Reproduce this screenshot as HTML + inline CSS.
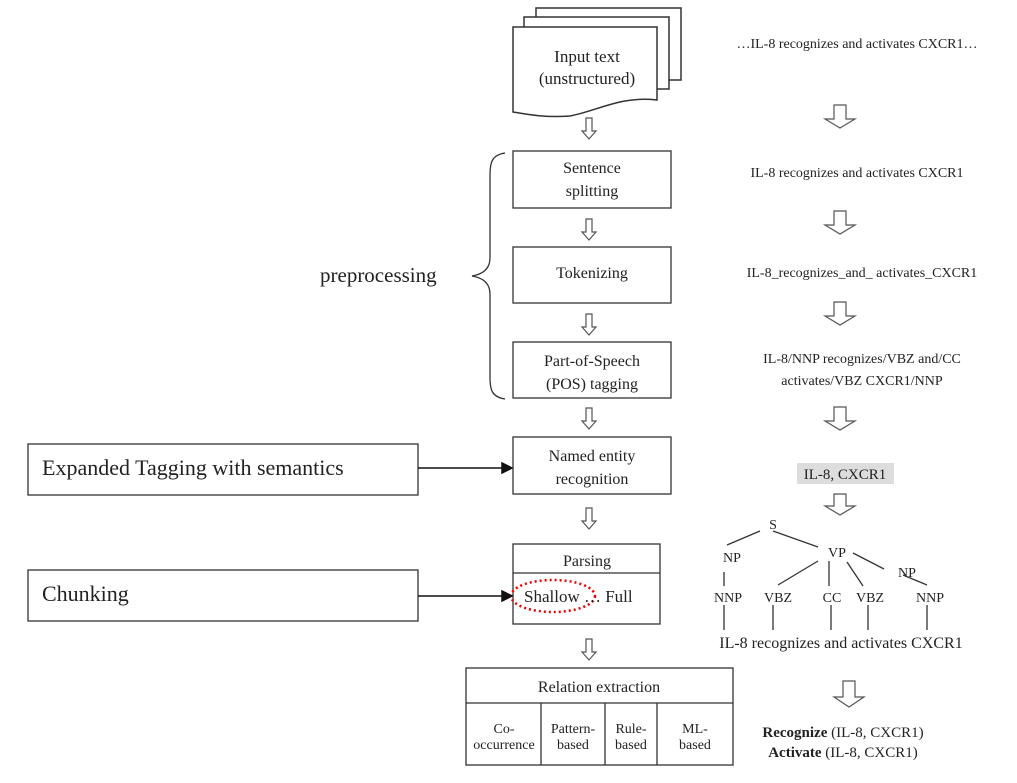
<!DOCTYPE html>
<html><head><style>body{margin:0;background:#fff}svg{display:block}text{font-family:"Liberation Serif",serif;fill:#222}</style></head><body>
<svg width="1017" height="783" viewBox="0 0 1017 783" xmlns="http://www.w3.org/2000/svg">
<g fill="#fff" stroke="#333" stroke-width="1.5">
<rect x="536" y="8" width="145" height="72"/>
<rect x="524" y="17" width="145" height="72"/>
<path d="M513 27 H657 V100 C620 96 600 110 570 116 C545 118 525 114 513 112 Z"/>
</g>
<g font-size="17" text-anchor="middle">
<text x="587" y="62">Input text</text>
<text x="587" y="84">(unstructured)</text>
</g>
<g fill="none" stroke="#333" stroke-width="1.3">
<rect x="513" y="151" width="158" height="57"/>
<rect x="513" y="247" width="158" height="56"/>
<rect x="513" y="342" width="158" height="56"/>
<rect x="513" y="437" width="158" height="57"/>
<rect x="513" y="544" width="147" height="80"/>
<line x1="513" y1="573" x2="660" y2="573"/>
<rect x="466" y="668" width="267" height="97"/>
<line x1="466" y1="703" x2="733" y2="703"/>
<line x1="541" y1="703" x2="541" y2="765"/>
<line x1="605" y1="703" x2="605" y2="765"/>
<line x1="657" y1="703" x2="657" y2="765"/>
<rect x="28" y="444" width="390" height="51"/>
<rect x="28" y="570" width="390" height="51"/>
<path d="M505 153 C492 155 490 162 490 175 V258 C490 268 484 274 472 276 C484 278 490 284 490 294 V378 C490 390 492 397 505 399"/>
</g>
<g fill="none" stroke="#333" stroke-width="1.3">
<line x1="727" y1="545" x2="760" y2="531"/>
<line x1="773" y1="531" x2="818" y2="547"/>
<line x1="818" y1="561" x2="778" y2="585"/>
<line x1="829" y1="561" x2="829" y2="586"/>
<line x1="847" y1="562" x2="863" y2="586"/>
<line x1="853" y1="553" x2="884" y2="569"/>
<line x1="903" y1="575" x2="927" y2="585"/>
<line x1="724" y1="572" x2="724" y2="586"/>
<line x1="724" y1="605" x2="724" y2="630"/>
<line x1="773" y1="605" x2="773" y2="630"/>
<line x1="831" y1="605" x2="831" y2="630"/>
<line x1="868" y1="605" x2="868" y2="630"/>
<line x1="927" y1="605" x2="927" y2="630"/>
</g>
<ellipse cx="553" cy="596" rx="42" ry="16" fill="none" stroke="#e00" stroke-width="2.5" stroke-dasharray="2,3"/>
<g stroke="#111" stroke-width="1.5" fill="#111">
<line x1="418" y1="468" x2="503" y2="468"/><path d="M512 468 L502 463 L502 473 Z"/>
<line x1="418" y1="596" x2="503" y2="596"/><path d="M512 596 L502 591 L502 601 Z"/>
</g>
<g fill="#fff" stroke="#555" stroke-width="1.2">
<path d="M586 118 h6 v13 h4 l-7 8 l-7 -8 h4 z"/>
<path d="M586 219 h6 v13 h4 l-7 8 l-7 -8 h4 z"/>
<path d="M586 314 h6 v13 h4 l-7 8 l-7 -8 h4 z"/>
<path d="M586 408 h6 v13 h4 l-7 8 l-7 -8 h4 z"/>
<path d="M586 508 h6 v13 h4 l-7 8 l-7 -8 h4 z"/>
<path d="M586 639 h6 v13 h4 l-7 8 l-7 -8 h4 z"/>
<path d="M834 105 h12 v14 h9 l-15 9 l-15 -9 h9 z"/>
<path d="M834 211 h12 v14 h9 l-15 9 l-15 -9 h9 z"/>
<path d="M834 302 h12 v14 h9 l-15 9 l-15 -9 h9 z"/>
<path d="M834 407 h12 v14 h9 l-15 9 l-15 -9 h9 z"/>
<path d="M834 494 h12 v12 h9 l-15 9 l-15 -9 h9 z"/>
<path d="M843 681 h12 v16 h9 l-15 10 l-15 -10 h9 z"/>
</g>
<rect x="797" y="463" width="97" height="21" fill="#ddd"/>
<g font-size="16" text-anchor="middle">
<text x="592" y="173">Sentence</text><text x="592" y="196">splitting</text>
<text x="592" y="278">Tokenizing</text>
<text x="592" y="366">Part-of-Speech</text><text x="592" y="389">(POS) tagging</text>
<text x="592" y="461">Named entity</text><text x="592" y="484">recognition</text>
<text x="587" y="566">Parsing</text>
<text x="599" y="692">Relation extraction</text>
</g>
<text x="524" y="602" font-size="17">Shallow … Full</text>
<g font-size="14" text-anchor="middle">
<text x="504" y="733">Co-</text><text x="504" y="749">occurrence</text>
<text x="573" y="733">Pattern-</text><text x="573" y="749">based</text>
<text x="631" y="733">Rule-</text><text x="631" y="749">based</text>
<text x="695" y="733">ML-</text><text x="695" y="749">based</text>
</g>
<g font-size="14" text-anchor="middle">
<text x="857" y="48">…IL-8 recognizes and activates CXCR1…</text>
<text x="857" y="177">IL-8 recognizes and activates CXCR1</text>
<text x="862" y="277">IL-8_recognizes_and_ activates_CXCR1</text>
<text x="862" y="363">IL-8/NNP recognizes/VBZ and/CC</text>
<text x="862" y="385">activates/VBZ CXCR1/NNP</text>
<text x="845" y="479" font-size="15">IL-8, CXCR1</text>
<text x="773" y="529">S</text><text x="732" y="562">NP</text><text x="837" y="557">VP</text><text x="907" y="577">NP</text>
<text x="728" y="602">NNP</text><text x="778" y="602">VBZ</text><text x="832" y="602">CC</text><text x="870" y="602">VBZ</text><text x="930" y="602">NNP</text>
<text x="841" y="648" font-size="16">IL-8 recognizes and activates CXCR1</text>
<text x="843" y="737" font-size="15"><tspan font-weight="bold">Recognize</tspan> (IL-8, CXCR1)</text>
<text x="843" y="757" font-size="15"><tspan font-weight="bold">Activate</tspan> (IL-8, CXCR1)</text>
</g>
<text x="320" y="282" font-size="21">preprocessing</text>
<text x="42" y="475" font-size="22">Expanded Tagging with semantics</text>
<text x="42" y="601" font-size="22">Chunking</text>
</svg>
</body></html>
